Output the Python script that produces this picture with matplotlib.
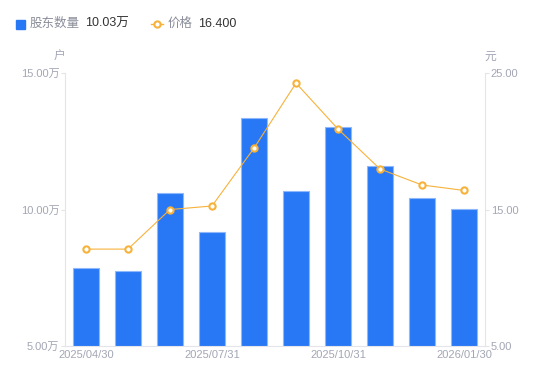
import matplotlib
matplotlib.use('Agg')
import matplotlib.pyplot as plt
import numpy as np

plt.rcParams['font.family'] = ['Liberation Sans', 'Noto Sans CJK SC', 'DejaVu Sans']

# data
dates = ['2025/04/30', '2025/06/10', '2025/06/30', '2025/07/31', '2025/08/31',
         '2025/09/20', '2025/10/31', '2025/11/30', '2025/12/31', '2026/01/30']
holders = [7.86, 7.75, 10.60, 9.18, 13.35, 10.68, 13.02, 11.59, 10.42, 10.03]  # 万户
price = [12.10, 12.10, 15.00, 15.26, 19.50, 24.27, 20.90, 17.97, 16.80, 16.40]
shown_ticks = [0, 3, 6, 9]

BLUE = '#2878f5'
ORANGE = '#f7b23b'
GRAY = '#a3a6b4'
AXIS = '#e3e5ea'

fig = plt.figure(figsize=(5.5, 3.81), dpi=100)
ax = fig.add_axes([0.118, 0.092, 0.764, 0.716])
ax2 = ax.twinx()

x = np.arange(len(dates))
ax.bar(x, holders, width=0.6, color=BLUE, edgecolor='#8fb8fb', linewidth=0.8, zorder=2)
ax.set_xlim(-0.5, len(dates) - 0.5)
ax.set_ylim(5, 15)
ax.set_yticks([5, 10, 15])
ax.set_yticklabels([f'{v:.2f}万' for v in [5, 10, 15]])

ax2.plot(x, price, color=ORANGE, linewidth=0.8, marker='o', markersize=4.5,
         markerfacecolor='white', markeredgecolor=ORANGE, markeredgewidth=1.5, zorder=3)
ax2.set_ylim(5, 25)
ax2.set_yticks([5, 15, 25])
ax2.set_yticklabels([f'{v:.2f}' for v in [5, 15, 25]])

ax.set_xticks([x[i] for i in shown_ticks])
ax.set_xticklabels([dates[i] for i in shown_ticks])

for a in (ax, ax2):
    for s in a.spines.values():
        s.set_visible(False)
    a.tick_params(colors=GRAY, labelsize=8, length=0)
ax2.set_zorder(2)
ax.set_zorder(1)
ax.patch.set_visible(False)

ax.spines['left'].set_visible(True)
ax.spines['left'].set_color(AXIS)
ax.spines['bottom'].set_visible(True)
ax.spines['bottom'].set_color(AXIS)
ax2.spines['right'].set_visible(True)
ax2.spines['right'].set_color(AXIS)
ax.tick_params(axis='y', length=3, color=AXIS, pad=1)
ax2.tick_params(axis='y', length=3, color=AXIS, pad=1)
ax.tick_params(axis='x', pad=3)

# unit labels
fig.text(59 / 550, 1 - 57 / 381, '户', color=GRAY, fontsize=8.5, ha='center', va='center')
fig.text(490 / 550, 1 - 57 / 381, '元', color=GRAY, fontsize=8.5, ha='center', va='center')

# legend
fig.patches.append(plt.Rectangle((16 / 550, 1 - 29 / 381), 9 / 550, 9 / 381,
                                 transform=fig.transFigure, color=BLUE))
fig.text(30 / 550, 1 - 24 / 381, '股东数量', color='#8a8d99', fontsize=9, va='center')
fig.text(85 / 550, 1 - 24 / 381, '10.03万', color='#333333', fontsize=9, va='center')
fig.lines.append(plt.Line2D([151 / 550, 163 / 550], [1 - 24 / 381] * 2, transform=fig.transFigure,
                            color=ORANGE, linewidth=1))
fig.lines.append(plt.Line2D([157 / 550], [1 - 24 / 381], transform=fig.transFigure, marker='o',
                            markersize=4.5, markerfacecolor='white', markeredgecolor=ORANGE,
                            markeredgewidth=1.5))
fig.text(168 / 550, 1 - 24 / 381, '价格', color='#8a8d99', fontsize=9, va='center')
fig.text(198 / 550, 1 - 24 / 381, '16.400', color='#333333', fontsize=9, va='center')

fig.savefig('out.png', dpi=100)
